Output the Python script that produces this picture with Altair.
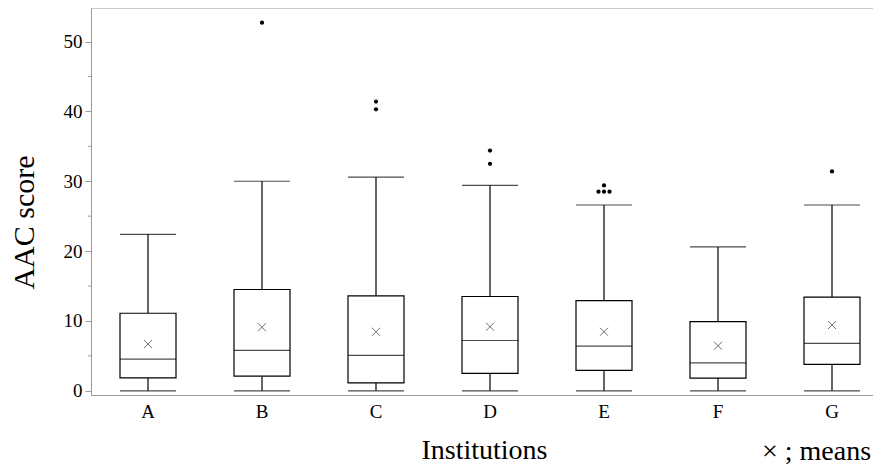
import altair as alt
import pandas as pd

institutions = ["A", "B", "C", "D", "E", "F", "G"]
whisker_lo = [0, 0, 0, 0, 0, 0, 0]
q1 = [1.86, 2.1, 1.15, 2.49, 2.92, 1.82, 3.78]
median = [4.54, 5.8, 5.07, 7.2, 6.4, 4.0, 6.79]
q3 = [11.1, 14.5, 13.6, 13.5, 12.9, 9.9, 13.4]
whisker_hi = [22.4, 30.0, 30.6, 29.4, 26.6, 20.6, 26.6]
means = [6.69, 9.1, 8.45, 9.17, 8.45, 6.45, 9.41]

outlier_inst = ["B", "C", "C", "D", "D", "E", "E", "E", "E", "G"]
outlier_val = [52.7, 41.4, 40.3, 34.4, 32.5, 28.5, 28.5, 28.5, 29.4, 31.4]

major_ticks = [0, 10, 20, 30, 40, 50]
minor_ticks = [5, 15, 25, 35, 45]

W, H = 782, 387
STEP = 114
FONT = "Liberation Serif"

stats = pd.DataFrame({
    "inst": institutions, "lo": whisker_lo, "q1": q1, "med": median,
    "q3": q3, "hi": whisker_hi, "mean": means,
})
outl = pd.DataFrame({"inst": outlier_inst, "val": outlier_val})
minor = pd.DataFrame({"v": minor_ticks})

xscale = alt.Scale(domain=institutions, range=[0, STEP * len(institutions)],
                   paddingInner=0, paddingOuter=0)
yscale = alt.Scale(domain=[-0.6, 54.8], nice=False, zero=False)

xaxis = alt.Axis(
    title="Institutions", labelAngle=0, ticks=False, labelFont=FONT, labelFontSize=19,
    labelColor="black", labelPadding=7, domainColor="#9a9a9a",
    titleFont=FONT, titleFontSize=28, titleFontWeight="normal", titleColor="black",
    titleX=393, titleY=55, titleBaseline="middle", titleAlign="center",
)
yaxis = alt.Axis(
    title="AAC score", values=major_ticks, tickSize=6, tickColor="#9a9a9a",
    domainColor="#9a9a9a", labelFont=FONT, labelFontSize=19, labelColor="black",
    labelPadding=3, grid=False,
    titleFont=FONT, titleFontSize=30, titleFontWeight="normal", titleColor="black",
    titleX=-67, titleY=214, titleBaseline="middle", titleAlign="center", titleAngle=270,
)

base = alt.Chart(stats)
x = alt.X("inst:N", scale=xscale, axis=xaxis, sort=institutions)

whisk_low = base.mark_rule(color="black", strokeWidth=1.2).encode(
    x=x, y=alt.Y("lo:Q", scale=yscale, axis=yaxis), y2="q1:Q")
whisk_high = base.mark_rule(color="black", strokeWidth=1.2).encode(
    x=x, y=alt.Y("q3:Q"), y2="hi:Q")
box = base.mark_bar(size=56, fill="white", stroke="black", strokeWidth=1.2).encode(
    x=x, y=alt.Y("q1:Q"), y2="q3:Q")
med_tick = base.mark_tick(size=56, thickness=1.2, color="black", orient="horizontal").encode(
    x=x, y=alt.Y("med:Q"))
cap_lo = base.mark_tick(size=56, thickness=1.2, color="black", orient="horizontal").encode(
    x=x, y=alt.Y("lo:Q"))
cap_hi = base.mark_tick(size=56, thickness=1.2, color="black", orient="horizontal").encode(
    x=x, y=alt.Y("hi:Q"))
mean_mark = base.mark_point(
    shape="M-1,-1L1,1M-1,1L1,-1", size=64, filled=False, stroke="#333", strokeWidth=1
).encode(x=x, y=alt.Y("mean:Q"))

outliers = alt.Chart(outl).transform_window(
    rank="row_number()", groupby=["inst", "val"]
).transform_joinaggregate(
    cnt="count()", groupby=["inst", "val"]
).transform_calculate(
    off=f"{STEP / 2} + (datum.rank - (datum.cnt + 1) / 2) * 5.5"
).mark_circle(size=18, color="black", opacity=1).encode(
    x=alt.X("inst:N", scale=xscale, sort=institutions),
    xOffset=alt.XOffset("off:Q", scale=None),
    y=alt.Y("val:Q"),
)

minor_rule = alt.Chart(minor).mark_rule(color="#9a9a9a", strokeWidth=1).encode(
    x=alt.value(-3), x2=alt.value(0), y=alt.Y("v:Q"))

frame_top = alt.Chart(pd.DataFrame({"a": [0]})).mark_rule(color="#9a9a9a", strokeWidth=1).encode(
    x=alt.value(0), x2=alt.value(W + 10), y=alt.value(0))

legend_text = alt.Chart(pd.DataFrame({"t": ["\u00d7 ; means"]})).mark_text(
    align="left", baseline="middle", font=FONT, fontSize=28, color="black"
).encode(x=alt.value(671), y=alt.value(444), text="t:N")

chart = alt.layer(
    whisk_low, whisk_high, box, med_tick, cap_lo, cap_hi, mean_mark, outliers,
    minor_rule, frame_top, legend_text
).properties(
    width=W, height=H,
    padding={"left": 83, "top": 0, "right": 0, "bottom": 70},
    autosize=alt.AutoSizeParams(type="none"),
).configure_view(stroke=None)

chart.save("out.html", embed_options={"renderer": "svg", "actions": False})
